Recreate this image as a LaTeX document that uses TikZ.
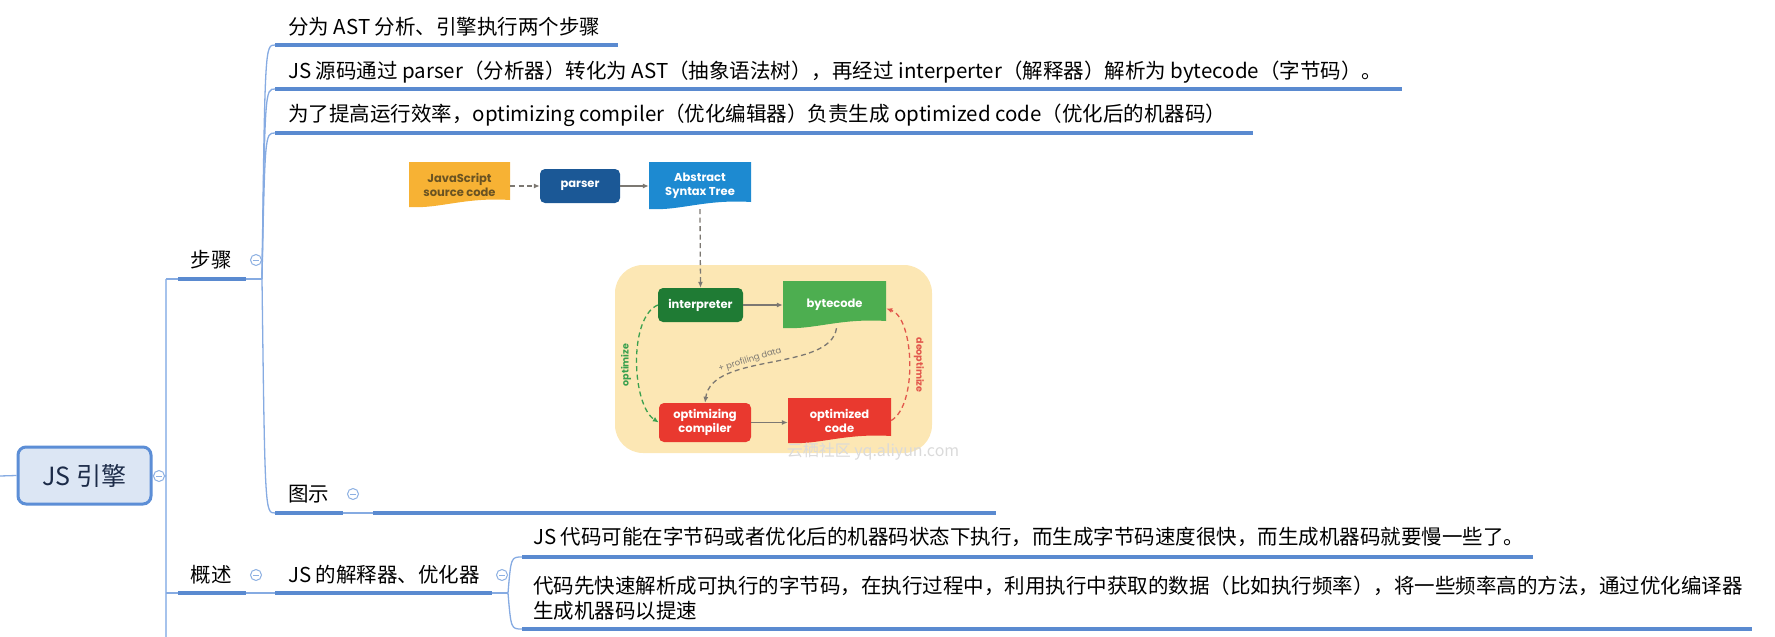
\documentclass[tikz,border=0pt]{standalone}
\usepackage{fontspec}
\setmainfont{Noto Sans CJK SC}
\newfontfamily\gfont{Poppins}
\usetikzlibrary{calc,arrows.meta}
\definecolor{ulblue}{HTML}{5A8AD0}
\definecolor{thinblue}{HTML}{86ABE2}
\definecolor{trunkblue}{HTML}{A6C3EC}
\definecolor{btnblue}{HTML}{8DB0E2}
\definecolor{rootfill}{HTML}{DCE6F4}
\definecolor{rootdraw}{HTML}{5C8ED6}
\definecolor{roottext}{HTML}{1C2B48}
\definecolor{srcorange}{HTML}{F7B234}
\definecolor{srctext}{HTML}{6A5322}
\definecolor{parserblue}{HTML}{1B5896}
\definecolor{astblue}{HTML}{1D8AD1}
\definecolor{panelfill}{HTML}{FCE7B4}
\definecolor{interpgreen}{HTML}{1F7B34}
\definecolor{bcgreen}{HTML}{4DAE50}
\definecolor{optred}{HTML}{E9392F}
\definecolor{arrowgrey}{HTML}{7C7872}
\definecolor{optgreen}{HTML}{39A04E}
\definecolor{deoptred}{HTML}{E2574C}
\definecolor{wmgrey}{HTML}{DADADA}
\begin{document}
\begin{tikzpicture}[x=1pt,y=-1pt,
  mmtext/.style={anchor=west, inner sep=0pt, font=\fontsize{20.5}{25}\selectfont, text=black},
  uline/.style={draw=ulblue, line width=3.5pt},
  thinline/.style={draw=thinblue, line width=1.3pt},
  trunkline/.style={draw=trunkblue, line width=2.2pt},
  collapsebtn/.style={circle, draw=btnblue, line width=1pt, fill=white, minimum size=11pt, inner sep=0pt,
     path picture={\draw[btnblue, line width=1pt] ([xshift=-3pt]path picture bounding box.center) -- ([xshift=3pt]path picture bounding box.center);}},
  rootbox/.style={draw=rootdraw, line width=3pt, fill=rootfill, rounded corners=8pt, minimum width=133pt, minimum height=57pt, inner sep=0pt, text=roottext, font=\fontsize{25}{30}\selectfont},
  gfonts/.style={font=\gfont\bfseries\fontsize{11.5}{14}\selectfont},
  rbox/.style={gfonts, rounded corners=5pt, inner sep=0pt, align=center, text=white},
  docbox/.style={gfonts, inner sep=0pt, align=center, text=white,
     path picture={\fill[#1] (path picture bounding box.north west) -- (path picture bounding box.north east)
       -- ($(path picture bounding box.south east)+(0,7pt)$)
       .. controls ($(path picture bounding box.south west)!0.55!(path picture bounding box.south east)+(0,10pt)$)
       and ($(path picture bounding box.south west)!0.3!(path picture bounding box.south east)+(0,-2pt)$)
       .. (path picture bounding box.south west) -- cycle;}},
  flowarrow/.style={draw=arrowgrey, line width=1.3pt, -{Latex[length=6pt,width=5pt]}},
  dasharrow/.style={flowarrow, dash pattern=on 5pt off 3.5pt},
  sidelabel/.style={font=\gfont\bfseries\fontsize{9.5}{11}\selectfont, inner sep=0pt}
]
\useasboundingbox (0,0) rectangle (1775,637);

% ---------- trunk and root ----------
\coordinate (tk) at (166,279);
\coordinate (tkb) at (166,637);
\coordinate (tkr) at (166,476);
\coordinate (lin) at (0,476);
\draw[trunkline] (tk) -- (tkb);
\node[rootbox] (root) at (84.5,475.5) {JS 引擎};
\draw[thinline] (lin) -- (root.west);
\draw[thinline] (root.east) -- (tkr);
\node[collapsebtn] (rbtn) at (159,476) {};

% ---------- 步骤 ----------
\coordinate (j1) at (262,279);
\coordinate (s0) at (178,279);
\coordinate (s1) at (246,279);
\draw[thinline] (tk) -- (j1);
\draw[uline] (s0) -- (s1);
\node[mmtext, anchor=center] (steps) at (211,260) {步骤};
\node[collapsebtn] (sbtn) at (256,260) {};

\foreach \yy/\xe/\nm in {45/618/a, 89/1402/b, 133/1253/c, 513/343/d} {
  \coordinate (u\nm0) at (275,\yy);
  \coordinate (u\nm1) at (\xe,\yy);
  \draw[thinline] (j1) .. controls (265,\yy) .. (u\nm0);
  \draw[uline] (u\nm0) -- (u\nm1);
}
\node[mmtext] (t1) at (288,27) {分为 AST 分析、引擎执行两个步骤};
\node[mmtext] (t2) at (288,72) {JS 源码通过 parser（分析器）转化为 AST（抽象语法树），再经过 interperter（解释器）解析为 bytecode（字节码）。};
\node[mmtext] (t3) at (288,115) {为了提高运行效率，optimizing compiler（优化编辑器）负责生成 optimized code（优化后的机器码）};
\node[mmtext] (t4) at (288,494) {图示};
\node[collapsebtn] (t4btn) at (353,494) {};
\coordinate (im0) at (373,513);
\coordinate (im1) at (996,513);
\draw[thinline] (ud1) -- (im0);
\draw[uline] (im0) -- (im1);

% ---------- 概述 ----------
\coordinate (o0) at (166,593);
\coordinate (o1) at (178,593);
\coordinate (o2) at (246,593);
\coordinate (o3) at (275,593);
\coordinate (o4) at (492,593);
\coordinate (j2) at (508,593);
\draw[thinline] (o0) -- (o3);
\draw[uline] (o1) -- (o2);
\node[mmtext, anchor=center] (ov) at (211,575) {概述};
\node[collapsebtn] (obtn) at (256,575) {};
\draw[uline] (o3) -- (o4);
\draw[thinline] (o4) -- (j2);
\node[mmtext] (ie) at (288,575) {JS 的解释器、优化器};
\node[collapsebtn] (ibtn) at (502,575) {};
\foreach \yy/\xe/\nm in {557/1533/p, 629/1752/q} {
  \coordinate (v\nm0) at (522,\yy);
  \coordinate (v\nm1) at (\xe,\yy);
  \draw[thinline] (j2) .. controls (511,\yy) .. (v\nm0);
  \draw[uline] (v\nm0) -- (v\nm1);
}
\node[mmtext] (c1) at (533,537) {JS 代码可能在字节码或者优化后的机器码状态下执行，而生成字节码速度很快，而生成机器码就要慢一些了。};
\node[mmtext, align=left] (c2) at (533,598.5) {代码先快速解析成可执行的字节码，在执行过程中，利用执行中获取的数据（比如执行频率），将一些频率高的方法，通过优化编译器\\生成机器码以提速};

% ---------- embedded diagram ----------
\node[fill=panelfill, rounded corners=28pt, minimum width=317pt, minimum height=188pt, inner sep=0pt] (panel) at (773.5,359) {};

\node[docbox=srcorange, text=srctext, minimum width=101pt, minimum height=45pt] (src) at (459.5,184.5) {JavaScript\\source code};
\node[rbox, fill=parserblue, minimum width=80pt, minimum height=34pt] (parser) at (580,186) {parser};
\node[docbox=astblue, minimum width=102pt, minimum height=47pt] (ast) at (700,185.5) {Abstract\\Syntax Tree};
\node[rbox, fill=interpgreen, minimum width=85pt, minimum height=34pt] (interp) at (700.5,305) {interpreter};
\node[docbox=bcgreen, minimum width=103pt, minimum height=47pt] (bc) at (834.5,304.5) {bytecode};
\node[rbox, fill=optred, minimum width=92pt, minimum height=39pt] (optc) at (705,422.5) {optimizing\\compiler};
\node[docbox=optred, minimum width=103pt, minimum height=45pt] (optcode) at (839.5,420.5) {optimized\\code};

\draw[dasharrow] (src.east |- parser.west) -- (parser.west);
\draw[flowarrow] (parser.east) -- (parser.east -| ast.west);
\draw[dasharrow] (ast.south) -- (interp.north);
\draw[flowarrow] (interp.east) -- (interp.east -| bc.west);
\draw[flowarrow] (optc.east) -- (optc.east -| optcode.west);

\draw[flowarrow, draw=optgreen, dash pattern=on 5pt off 3.5pt] (interp.west) .. controls (628,318) and (632,405) .. (optc.west);
\draw[flowarrow, draw=deoptred, dash pattern=on 5pt off 3.5pt] (optcode.east) .. controls (918,405) and (914,318) .. ([yshift=-4pt]bc.east);
\draw[flowarrow, dash pattern=on 5pt off 3.5pt] ([xshift=2pt]bc.south) .. controls (830,372) and (712,352) .. (optc.north);

\node[sidelabel, rotate=90, text=optgreen] (lopt) at (626,365) {optimize};
\node[sidelabel, rotate=-90, text=deoptred] (ldeopt) at (919,365) {deoptimize};
\node[sidelabel, font=\gfont\fontsize{8.5}{10}\selectfont, rotate=17, text=arrowgrey] (lprof) at (750,360) {+ profiling data};
\node[inner sep=0pt, text=wmgrey, font=\fontsize{16}{18}\selectfont] (wm) at (873,452) {云栖社区 yq.aliyun.com};
\end{tikzpicture}
\end{document}
